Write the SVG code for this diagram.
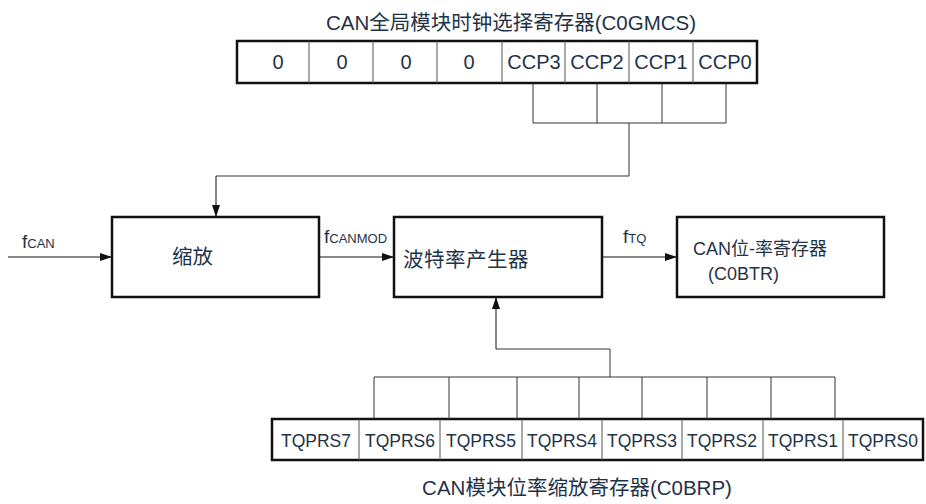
<svg xmlns="http://www.w3.org/2000/svg" width="926" height="504" viewBox="0 0 926 504">
<style>
text{font-family:"Liberation Sans","Noto Sans CJK SC",sans-serif;fill:#1f3347}
.t{font-size:20.5px}
.r{font-size:20px;text-anchor:middle}
.rb{font-size:17.5px;text-anchor:middle}
.sub{font-size:13px}
.box{fill:#fff;stroke:#111;stroke-width:2.5}
.cell{fill:none;stroke:#555;stroke-width:1}
.ln{fill:none;stroke:#333;stroke-width:1}
.arr{fill:none;stroke:#111;stroke-width:1;marker-end:url(#ah)}
</style>
<defs>
<marker id="ah" markerWidth="12" markerHeight="8" refX="11" refY="4" orient="auto" markerUnits="userSpaceOnUse">
<path d="M0,0 L12,4 L0,8 Z" fill="#111"/>
</marker>
</defs>
<g id="reg-c0gmcs">
<text class="t" x="511" y="30" text-anchor="middle">CAN全局模块时钟选择寄存器(C0GMCS)</text>
<rect class="box" x="237" y="41" width="520" height="42"/>
<path class="cell" d="M309,41V83M373,41V83M437,41V83M502,41V83M565,41V83M629,41V83M693,41V83"/>
<text class="r" x="278" y="69">0</text>
<text class="r" x="342" y="69">0</text>
<text class="r" x="406" y="69">0</text>
<text class="r" x="469" y="69">0</text>
<text class="r" x="534" y="69">CCP3</text>
<text class="r" x="597" y="69">CCP2</text>
<text class="r" x="661" y="69">CCP1</text>
<text class="r" x="725" y="69">CCP0</text>
</g>
<g id="reg-c0brp">
<rect class="box" x="272" y="419" width="651" height="41"/>
<path class="cell" d="M359,419V460M440,419V460M522,419V460M602,419V460M682,419V460M763,419V460M843,419V460"/>
<text class="rb" x="316" y="447">TQPRS7</text>
<text class="rb" x="400" y="447">TQPRS6</text>
<text class="rb" x="481" y="447">TQPRS5</text>
<text class="rb" x="562" y="447">TQPRS4</text>
<text class="rb" x="642" y="447">TQPRS3</text>
<text class="rb" x="722" y="447">TQPRS2</text>
<text class="rb" x="803" y="447">TQPRS1</text>
<text class="rb" x="883" y="447">TQPRS0</text>
<text class="t" x="577" y="495" text-anchor="middle">CAN模块位率缩放寄存器(C0BRP)</text>
</g>
<g id="prescaler">
<rect class="box" x="112" y="217" width="207" height="80"/>
<text class="t" x="172" y="264">缩放</text>
</g>
<g id="baud-gen">
<rect class="box" x="394" y="217" width="208" height="80"/>
<text class="t" x="403" y="267" letter-spacing="0.5">波特率产生器</text>
</g>
<g id="c0btr">
<rect class="box" x="677" y="217" width="207" height="80"/>
<text x="693" y="255" style="font-size:18px">CAN位-率寄存器</text>
<text x="708" y="280" style="font-size:18px">(C0BTR)</text>
</g>
<g id="connectors">
<path class="ln" d="M533,83V123M597,83V123M662,83V123M726,83V123M533,123H726"/>
<path class="ln" d="M629,123V176H216"/>
<path class="arr" d="M216,176V216"/>
<path class="arr" d="M8,257H111"/>
<path class="arr" d="M319,257H393"/>
<path class="arr" d="M602,257H676"/>
<path class="ln" d="M374,419V377M449,419V377M517,419V377M579,419V377M642,419V377M707,419V377M771,419V377M835,419V377M374,377H835"/>
<path class="ln" d="M610,377V349H496"/>
<path class="arr" d="M496,349V298"/>
<text x="22" y="248" style="font-size:19px">f<tspan class="sub">CAN</tspan></text>
<text x="324" y="243" style="font-size:19px">f<tspan class="sub">CANMOD</tspan></text>
<text x="623" y="243" style="font-size:19px">f<tspan class="sub">TQ</tspan></text>
</g>
</svg>
